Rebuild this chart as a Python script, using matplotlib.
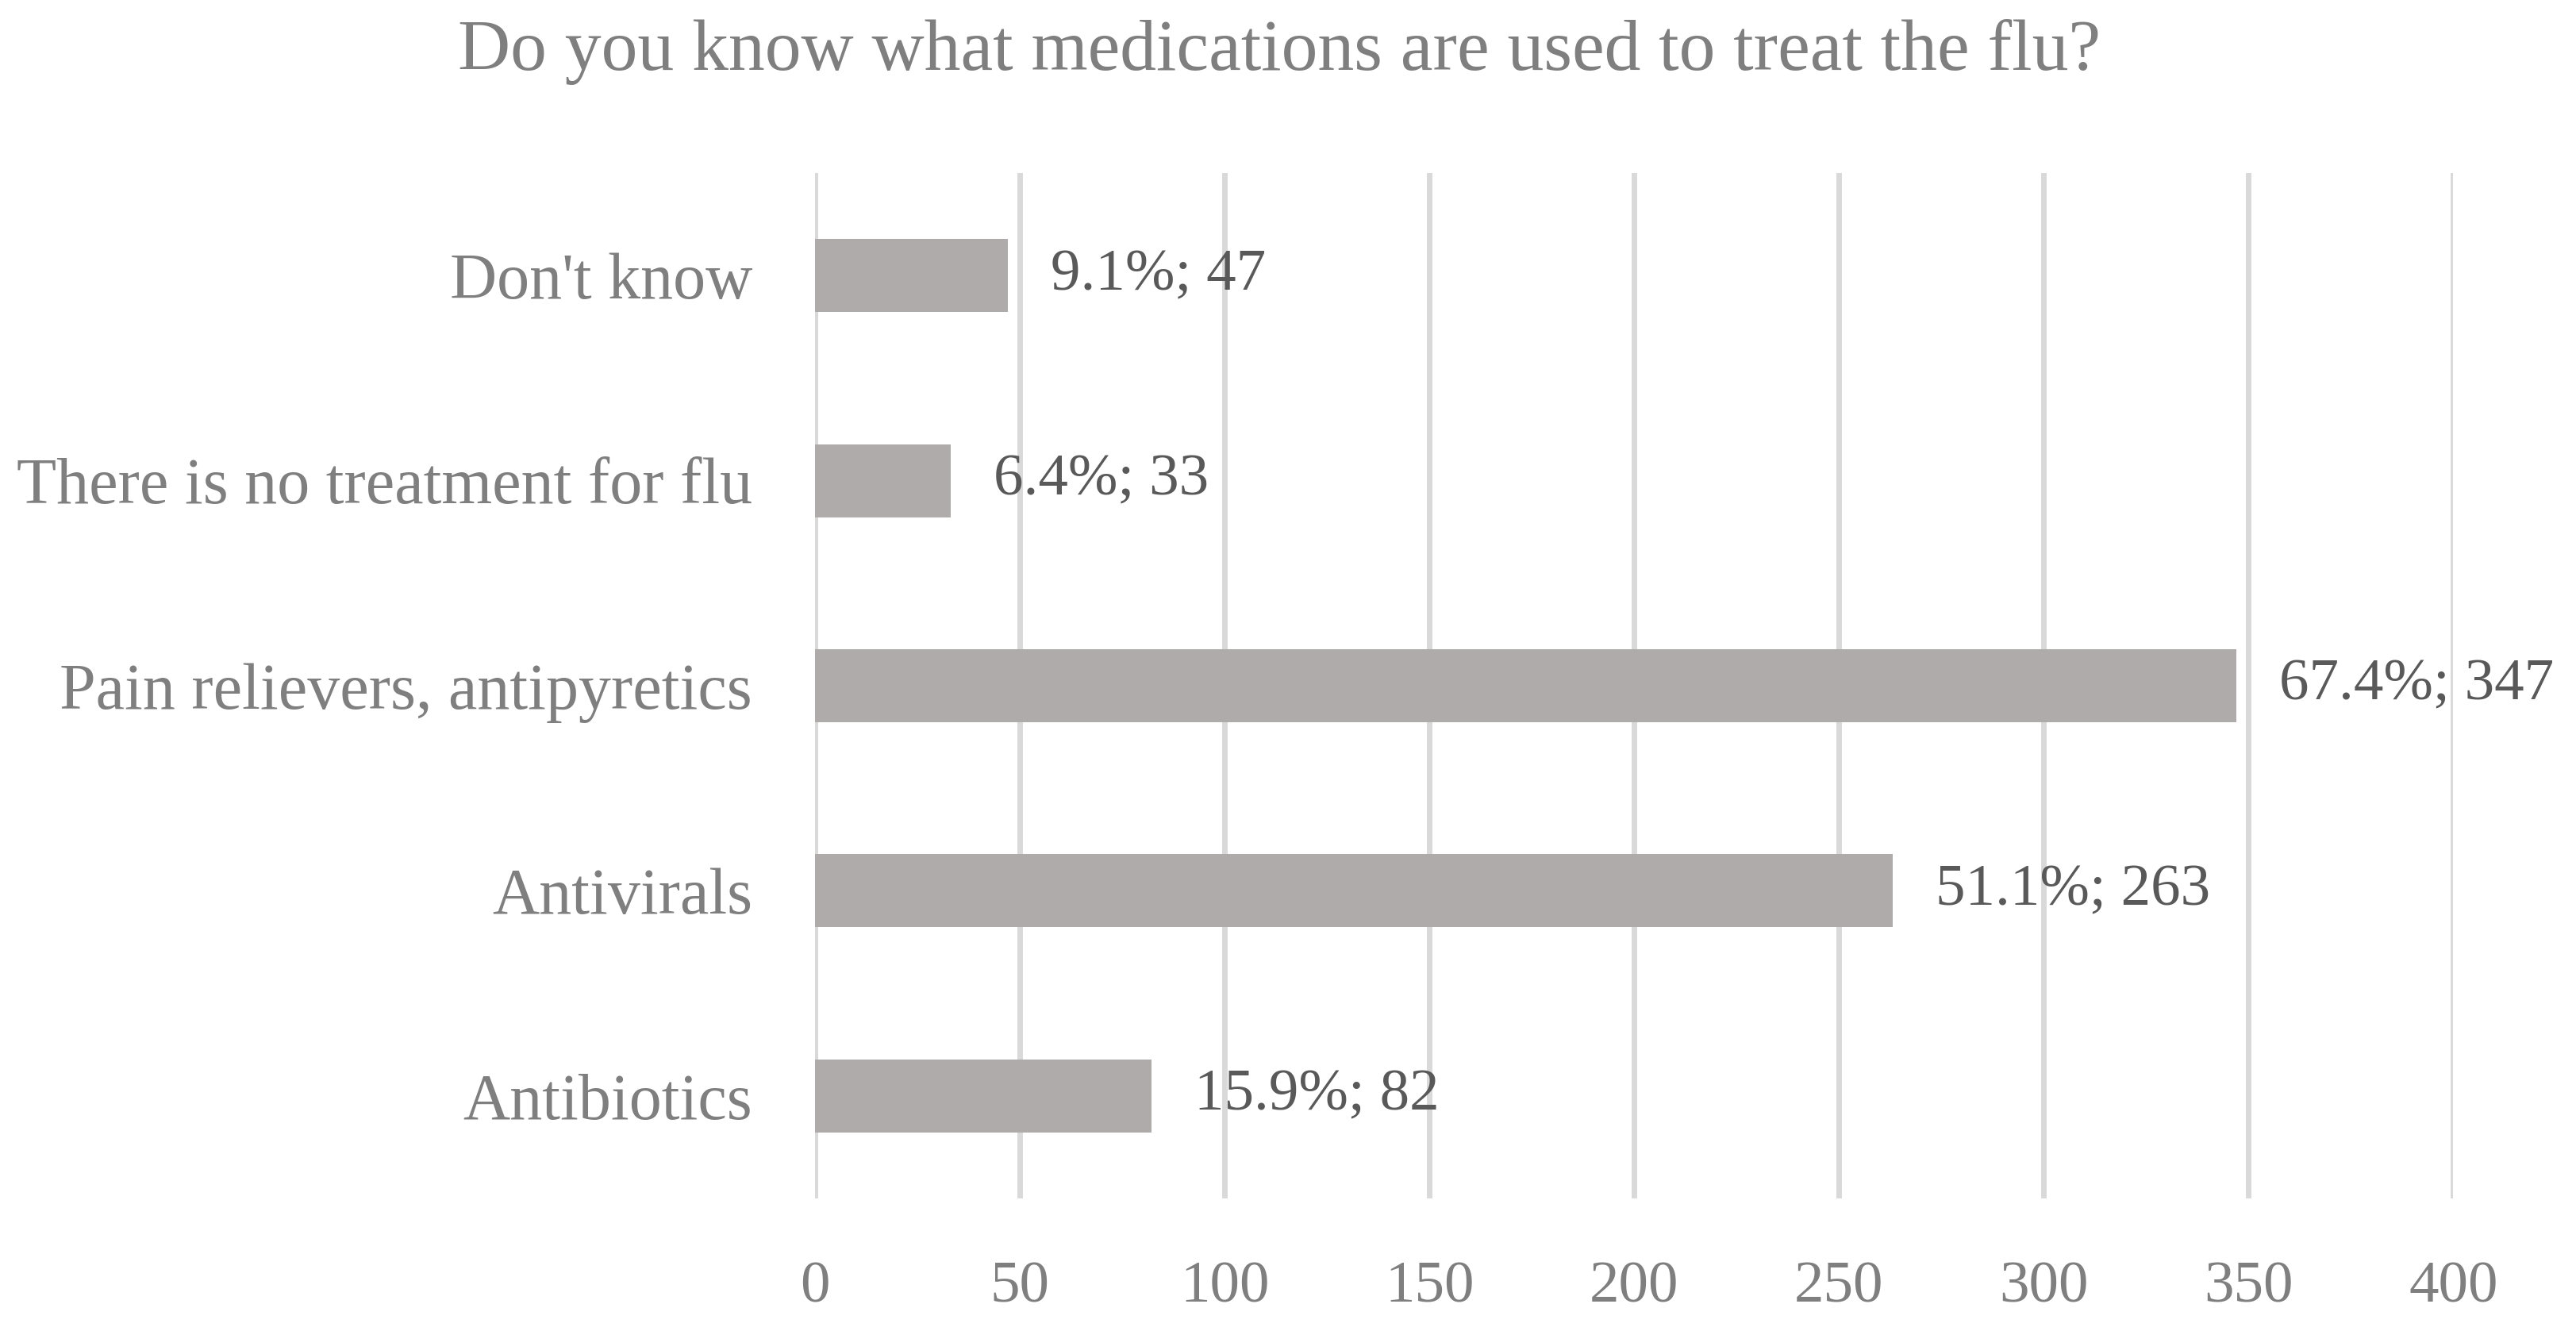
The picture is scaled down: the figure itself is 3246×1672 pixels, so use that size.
import matplotlib
matplotlib.use("Agg")
import matplotlib.pyplot as plt

categories = ["Antibiotics", "Antivirals", "Pain relievers, antipyretics",
              "There is no treatment for flu", "Don't know"]
counts = [82, 263, 347, 33, 47]
percents = [15.9, 51.1, 67.4, 6.4, 9.1]
xticks = [0, 50, 100, 150, 200, 250, 300, 350, 400]

plt.rcParams['font.family'] = ['Liberation Serif', 'DejaVu Serif']

fig = plt.figure(figsize=(32.46, 16.72), dpi=100)
ax = fig.add_axes([0.3165, 0.0969, 0.6359, 0.7727])

ypos = range(len(categories))
ax.barh(ypos, counts, height=0.356, color='#AFABAB', zorder=3)

# data labels: "pct%; count"
for y, c, p in zip(ypos, counts, percents):
    ax.text(c + 10.5, y, f"{p}%; {c}", va='center', ha='left',
            fontsize=54, color='#595959', zorder=4)

ax.set_xlim(0, 400)
ax.set_ylim(-0.5, 4.5)
ax.set_xticks(xticks)
ax.set_yticks(list(ypos))
ax.set_yticklabels(categories)
ax.tick_params(axis='both', length=0, labelcolor='#7F7F7F')
ax.tick_params(axis='x', pad=57, labelsize=54)
ax.tick_params(axis='y', pad=57, labelsize=59)
ax.grid(axis='x', color='#D9D9D9', linewidth=5, zorder=0)
for s in ax.spines.values():
    s.set_visible(False)

fig.text(0.4967, 0.9474, "Do you know what medications are used to treat the flu?",
         ha='center', va='baseline', fontsize=66, color='#7F7F7F')

fig.savefig("out.png", dpi=100, facecolor='white')
